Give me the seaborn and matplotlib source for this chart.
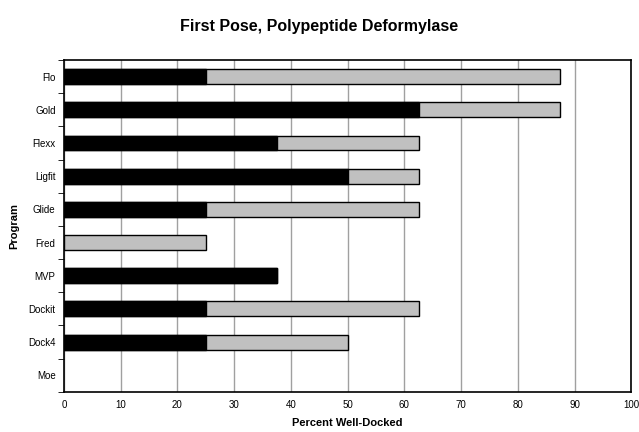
import matplotlib
matplotlib.use("Agg")
import matplotlib.pyplot as plt
import seaborn as sns
import pandas as pd
import numpy as np

programs = ["Flo", "Gold", "Flexx", "Ligfit", "Glide", "Fred", "MVP", "Dockit", "Dock4", "Moe"]
black_part = [25, 62.5, 37.5, 50, 25, 0, 37.5, 25, 25, 0]
total = [87.5, 87.5, 62.5, 62.5, 62.5, 25, 37.5, 62.5, 50, 0]
xticks = [0, 10, 20, 30, 40, 50, 60, 70, 80, 90, 100]

sns.set_style("white")
plt.rcParams['font.family'] = ['Liberation Sans', 'DejaVu Sans']
plt.rcParams['text.color'] = 'black'
plt.rcParams['axes.labelcolor'] = 'black'
plt.rcParams['xtick.color'] = 'black'
plt.rcParams['ytick.color'] = 'black'

df = pd.DataFrame({"Program": programs, "black": black_part, "total": total})

fig = plt.figure(figsize=(6.39, 4.32), dpi=100)
ax = fig.add_axes([0.100, 0.093, 0.888, 0.768])

sns.barplot(data=df, x="total", y="Program", order=programs, color="#c0c0c0",
            edgecolor="black", linewidth=1.0, width=0.45, orient="h", ax=ax,
            saturation=1)
sns.barplot(data=df, x="black", y="Program", order=programs, color="black",
            edgecolor="black", linewidth=1.0, width=0.45, orient="h", ax=ax,
            saturation=1)

# hide zero-length bars
for p in ax.patches:
    if p.get_width() == 0:
        p.set_visible(False)

ax.set_xlim(0, 100)
ax.set_ylim(len(programs) - 0.5, -0.5)
ax.set_xticks(xticks)
ax.set_xticklabels([str(t) for t in xticks], fontsize=7)
ax.xaxis.grid(True, color="#a0a0a0", linewidth=1.0)
ax.set_axisbelow(True)
ax.tick_params(axis="y", which="major", length=0, labelsize=7, pad=6)
ax.set_yticks(np.arange(-0.5, len(programs), 1), minor=True)
ax.tick_params(axis="y", which="minor", length=4, direction="out", color="black", left=True)
ax.tick_params(axis="x", which="major", length=0, pad=6)

for s in ax.spines.values():
    s.set_color("black")
    s.set_linewidth(1.2)

ax.set_xlabel("Percent Well-Docked", fontsize=8, fontweight="bold", labelpad=6)
ax.set_ylabel("Program", fontsize=8, fontweight="bold", labelpad=6)
fig.suptitle("First Pose, Polypeptide Deformylase", fontsize=11.5, fontweight="bold", y=0.955)

fig.savefig("out.png", dpi=100)
